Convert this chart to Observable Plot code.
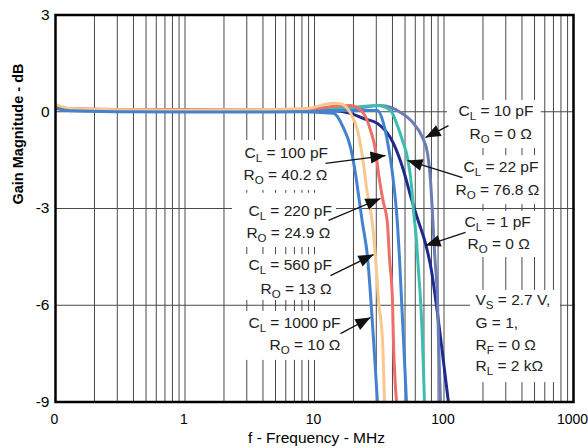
<!DOCTYPE html>
<html><head><meta charset="utf-8">
<script src="https://cdn.jsdelivr.net/npm/d3@7"></script>
<script src="https://cdn.jsdelivr.net/npm/@observablehq/plot@0.6"></script>
<style>body{margin:0;background:#fff}</style>
</head><body><div id="chart"></div>
<script>
// ---- axis ticks ----
const freqTicks = [0.1, 1, 10, 100, 1000];
const freqTickLabels = ["0", "1", "10", "100", "1000"];
const gainTicks = [3, 0, -3, -6, -9];
const gainGrid = [0, -3, -6];

// ---- series (frequency MHz, gain dB) ----
const names = ["CL=1pF", "CL=10pF", "CL=22pF", "CL=100pF", "CL=220pF", "CL=560pF", "CL=1000pF"];
const colors = ["#1d2a8c", "#6b7cb8", "#3dbdb0", "#4382d0", "#ef6f68", "#f8c88e", "#4382d0"];
const f1 = [0.1,0.13,0.3,1,3,8,13.3,19,23.9,30.6,40.7,48.7,55.1,62.4,72.0,80.0,87.5,95.7,108.3];
const g1 = [0.12,0.08,0.06,0.05,0.05,0.05,0.04,-0.05,-0.21,-0.36,-0.98,-1.82,-2.60,-3.31,-4.09,-4.92,-6.01,-7.25,-9.02];
const f10 = [0.1,0.13,0.3,1,3,8,20,32.4,46.1,58.1,68.2,74.6,78.7,81.5,83.6,85,89.1,90.7,94];
const g10 = [0.12,0.08,0.06,0.06,0.05,0.06,0.1,0.19,-0.02,-0.36,-0.80,-1.29,-2.13,-3.16,-4.0,-4.52,-5.85,-7.09,-9.0];
const f22 = [0.1,0.13,0.3,1,3,8,15.9,30.6,38.6,43.7,47.8,52.2,56.1,58.1,61.3,63.5,65.9,68.2,70.7];
const g22 = [0.15,0.08,0.06,0.05,0.05,0.06,0.1,0.19,0.04,-0.43,-0.89,-1.42,-2.29,-3.06,-3.99,-4.92,-5.85,-7.09,-9.0];
const f100 = [0.1,0.13,0.3,1,3,8,25.7,30.6,34.1,37.3,40.0,42.2,43.7,45.3,47.0,48.7,51.3];
const g100 = [0.1,0.05,0.03,0.02,0.02,0.03,0.04,0.04,-0.36,-1.11,-1.91,-2.75,-3.47,-4.52,-5.85,-7.09,-9.0];
const f220 = [0.1,0.13,0.3,1,3,8,19.0,23.9,27.1,29.6,31.2,33.8,36.6,37.9,40.0,40.7,43];
const g220 = [0.15,0.1,0.07,0.06,0.06,0.08,0.19,-0.05,-0.58,-1.20,-1.91,-2.75,-3.47,-4.52,-5.85,-7.09,-9.0];
const f560 = [0.1,0.13,0.3,1,3,8.8,11.1,14.0,15.9,19.0,21.5,23.5,25.4,28.0,29.6,31.2,33.5,34.7];
const g560 = [0.22,0.1,0.06,0.05,0.06,0.10,0.19,0.26,0.25,-0.05,-0.58,-1.42,-2.44,-3.47,-4.52,-5.85,-7.09,-9.0];
const f1000 = [0.1,0.13,0.3,1,3,7.8,14.0,16.7,19.0,20.7,21.9,23.5,25.7,27.1,28.6,30.6];
const g1000 = [0.12,0.03,0.0,-0.01,-0.01,0.0,-0.05,-0.49,-1.11,-1.91,-2.60,-3.47,-4.52,-5.70,-7.09,-8.98];
const seriesF = [f1, f10, f22, f100, f220, f560, f1000];
const seriesG = [g1, g10, g22, g100, g220, g560, g1000];

// ---- annotation boxes (data coords) ----
const boxF1 = [2.33, 2.33, 2.33, 2.33, 106.4, 106.4, 106.4, 160.2];
const boxF2 = [14.79, 14.79, 14.79, 17.35, 562, 562, 562, 793.6];
const boxG1 = [-0.89, -2.53, -4.43, -6.19, 0.35, -1.36, -3.09, -5.54];
const boxG2 = [-2.44, -4.21, -5.85, -7.71, -1.14, -2.88, -4.52, -8.40];

// ---- annotation text lines ----
const noteF = [2.88, 2.83, 3.09, 2.98, 3.09, 3.83, 3.09, 4.49, 129.4, 157.4, 141.5, 122.7, 143.9, 151.8, 175.1, 175.1, 175.1, 175.1];
const noteG = [-1.42, -2.13, -3.22, -3.93, -4.92, -5.64, -6.69, -7.40, -0.12, -0.86, -1.88, -2.57, -3.56, -4.27, -5.98, -6.72, -7.38, -8.04];
const notePrefix = ["C","R","C","R","C","R","C","R","C","R","C","R","C","R","V","G = 1,","R","R"];
const noteSub = ["L","O","L","O","L","O","L","O","L","O","L","O","L","O","S","","F","L"];
const noteRest = ["= 100 pF","= 40.2 Ω","= 220 pF","= 24.9 Ω","= 560 pF","= 13 Ω","= 1000 pF","= 10 Ω",
  "= 10 pF","= 0 Ω","= 22 pF","= 76.8 Ω","= 1 pF","= 0 Ω","= 2.7 V,","","= 0 Ω","= 2 kΩ"];

// ---- arrows (tail -> tip, data coords) ----
const arrowTailF = [108.3, 138.9, 146.6, 12.16, 12.83, 13.29, 15.88];
const arrowTailG = [-0.43, -2.04, -3.74, -1.60, -3.37, -5.08, -6.88];
const arrowTipF = [71.96, 52.26, 71.96, 35.35, 32.33, 28.55, 27.06];
const arrowTipG = [-0.80, -1.51, -4.15, -1.36, -2.69, -4.43, -6.38];

// ---- layout ----
const W = 588, H = 448, ML = 55, MR = 15, MT = 14.5, MB = 46.5;
const FS = 15.5, SFS = 11.5, XFS = 14;
const FONT = "'Liberation Sans', Arial, Helvetica, sans-serif";
const kx = (W - ML - MR) / 4, ky = (H - MT - MB) / 12;

const gridFreqs = d3.scaleLog().domain([0.1, 1000]).ticks().filter(d => d > 0.1 && d < 1000);
const boxes = boxF1.map((d, i) => ({x1: d, x2: boxF2[i], y1: boxG1[i], y2: boxG2[i]}));
const arrows = arrowTailF.map((d, i) => ({
  tf: d, tg: arrowTailG[i], hf: arrowTipF[i], hg: arrowTipG[i],
  angle: Math.atan2(-(arrowTipG[i] - arrowTailG[i]) * ky, (Math.log10(arrowTipF[i]) - Math.log10(d)) * kx) * 180 / Math.PI
}));
const arrowHead = {draw(ctx) { ctx.moveTo(0, 0); ctx.lineTo(-15, -6); ctx.lineTo(-15, 6); ctx.closePath(); }};

const prefixW = {C: 0.722, R: 0.722, V: 0.667};
const subW = {L: 0.556, O: 0.778, S: 0.667, F: 0.611};
const textMarks = [];
noteF.forEach((f, i) => {
  const d = [{f, g: noteG[i]}];
  const common = {x: "f", y: "g", textAnchor: "start", lineAnchor: "bottom", fill: "#222"};
  textMarks.push(Plot.text(d, {...common, text: () => notePrefix[i], fontSize: FS}));
  if (noteSub[i]) {
    const dxSub = prefixW[notePrefix[i]] * FS;
    textMarks.push(Plot.text(d, {...common, text: () => noteSub[i], fontSize: SFS, dx: dxSub, dy: 4}));
    const dxRest = dxSub + subW[noteSub[i]] * SFS + 0.278 * FS;
    textMarks.push(Plot.text(d, {...common, text: () => noteRest[i], fontSize: FS, dx: dxRest}));
  }
});

const lineMarks = seriesF.map((fs, s) =>
  Plot.line(fs.map((f, i) => ({f, g: seriesG[s][i]})), {x: "f", y: "g", stroke: colors[s], strokeWidth: 3, curve: "monotone-x", clip: true})
);

const freqLabel = new Map(freqTicks.map((d, i) => [d, freqTickLabels[i]]));

const chart = Plot.plot({
  width: W, height: H, marginLeft: ML, marginRight: MR, marginTop: MT, marginBottom: MB,
  x: {type: "log", domain: [0.1, 1000]},
  y: {domain: [-9, 3]},
  style: {fontFamily: FONT, fontSize: FS + "px", background: "white", color: "black"},
  marks: [
    Plot.ruleX(gridFreqs, {stroke: "#4a4a4a", strokeWidth: 1}),
    Plot.ruleY(gainGrid, {stroke: "#4a4a4a", strokeWidth: 1}),
    Plot.rect(boxes, {x1: "x1", x2: "x2", y1: "y1", y2: "y2", fill: "white"}),
    ...lineMarks,
    Plot.link(arrows, {x1: "tf", y1: "tg", x2: "hf", y2: "hg", stroke: "#111", strokeWidth: 1.3}),
    Plot.dot(arrows, {x: "hf", y: "hg", symbol: arrowHead, rotate: "angle", fill: "#111", stroke: "none", r: 7}),
    ...textMarks,
    Plot.frame({stroke: "black", strokeWidth: 2.5}),
    Plot.axisX(freqTicks, {tickSize: 0, tickPadding: 12, tickFormat: d => freqLabel.get(d), label: null, fontSize: XFS, dx: -1}),
    Plot.axisY(gainTicks, {tickSize: 0, tickPadding: 6, tickFormat: d => String(d), label: null, fontSize: FS}),
    Plot.text(["f - Frequency - MHz"], {frameAnchor: "bottom", dy: 41, dx: 2, lineAnchor: "bottom", fontSize: FS}),
    Plot.text(["Gain Magnitude - dB"], {frameAnchor: "left", dx: -37.5, dy: -4, rotate: -90, fontSize: 14.5, fontWeight: "bold"})
  ]
});
document.getElementById("chart").appendChild(chart);
</script></body></html>
